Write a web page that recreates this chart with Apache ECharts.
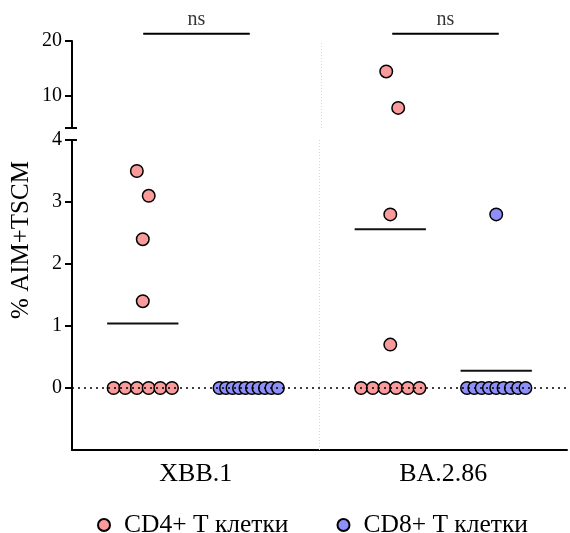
<!DOCTYPE html>
<html><head><meta charset="utf-8">
<script src="https://cdn.jsdelivr.net/npm/echarts@6/dist/echarts.min.js"></script>
<style>html,body{margin:0;padding:0;background:#fff}#c{width:570px;height:533px}</style>
</head><body><div id="c"></div>
<script>
// ---- data ----
const categories = ['XBB.1', 'BA.2.86'];
const groupNames = ['CD4+ Т клетки', 'CD8+ Т клетки'];
const cd4XBB = [3.5, 3.1, 2.4, 1.4, 0, 0, 0, 0, 0, 0];
const cd8XBB = [0, 0, 0, 0, 0, 0, 0, 0, 0, 0];
const cd4BA = [14.4, 7.7, 2.8, 0.7, 0, 0, 0, 0, 0, 0];
const cd8BA = [2.8, 0, 0, 0, 0, 0, 0, 0, 0, 0];
const upperTicks = [10, 20];
const lowerTicks = [0, 1, 2, 3, 4];
const comparisonLabels = ['ns', 'ns'];

// ---- layout / style ----
const FONT = '"Liberation Serif", "Times New Roman", serif';
const GRID_LEFT = 72, GRID_W = 500;
const UP_TOP = 41, UP_H = 87, UP_MIN = 4, UP_MAX = 20;
const LO_TOP = 140, LO_H = 310, LO_MIN = -1, LO_MAX = 4;
const BREAK = 4;
const PX_PER_X = GRID_W / 2;
const GROUP_OFF = 53.5 / PX_PER_X;
const MEAN_HALF = 36 / PX_PER_X;
const BRACKET_Y = 21.35;
const colors = ['#F99B9B', '#8F8FF9'];
const table = [[cd4XBB, cd8XBB], [cd4BA, cd8BA]];

function pxY(v) {
  return v > BREAK ? UP_TOP + (UP_MAX - v) / (UP_MAX - UP_MIN) * UP_H
                   : LO_TOP + (LO_MAX - v) / (LO_MAX - LO_MIN) * LO_H;
}
function colCenter(ci, gi) { return ci + 0.5 + (gi === 0 ? -GROUP_OFF : GROUP_OFF); }
function swarm(vals) {
  const pts = vals.map(v => ({ v, py: pxY(v) })).sort((a, b) => a.py - b.py);
  const rows = []; let cur = [];
  pts.forEach(p => {
    if (cur.length && p.py - cur[cur.length - 1].py >= 40) { rows.push(cur); cur = []; }
    cur.push(p);
  });
  if (cur.length) rows.push(cur);
  rows.forEach(r => {
    const n = r.length; const s = n > 1 ? Math.min(12, 59 / (n - 1)) : 0;
    r.forEach((p, i) => { p.dx = (i - (n - 1) / 2) * s; });
  });
  return pts;
}

const series = [];
// zero dotted line + separators
series.push({
  type: 'scatter', xAxisIndex: 1, yAxisIndex: 1, data: [], silent: true, z: 1,
  markLine: { symbol: 'none', silent: true, label: { show: false }, animation: false,
    data: [
      { yAxis: 0, lineStyle: { type: [2, 4], color: '#000', width: 1.5 } },
      { xAxis: 1, lineStyle: { type: [1, 2], color: '#d8d8d8', width: 1 } }
    ] }
});
series.push({
  type: 'scatter', xAxisIndex: 0, yAxisIndex: 0, data: [], silent: true, z: 1,
  markLine: { symbol: 'none', silent: true, label: { show: false }, animation: false,
    data: [{ xAxis: 1, lineStyle: { type: [1, 2], color: '#d8d8d8', width: 1 } }] }
});
// break caps (inward stubs)
[0, 1].forEach(g => series.push({
  type: 'line', xAxisIndex: g, yAxisIndex: g, clip: false, symbol: 'none', silent: true, z: 5,
  data: [[0, BREAK], [0.02, BREAK]], lineStyle: { color: '#000', width: 2 }
}));

categories.forEach((cat, ci) => {
  [0, 1].forEach(gi => {
    const vals = table[ci][gi];
    const pts = swarm(vals);
    const c = colCenter(ci, gi);
    const lo = pts.filter(p => p.v <= BREAK).map(p => [c + p.dx / PX_PER_X, p.v]);
    const up = pts.filter(p => p.v > BREAK).map(p => [c + p.dx / PX_PER_X, p.v]);
    const style = { color: colors[gi], borderColor: '#000', borderWidth: 1.5, opacity: 1 };
    series.push({ type: 'scatter', name: groupNames[gi], xAxisIndex: 1, yAxisIndex: 1,
      data: lo, symbol: 'circle', symbolSize: 12.5, itemStyle: style, z: 4 });
    series.push({ type: 'scatter', name: groupNames[gi], xAxisIndex: 0, yAxisIndex: 0,
      data: up, symbol: 'circle', symbolSize: 12.5, itemStyle: style, z: 4 });
    const mean = vals.reduce((a, b) => a + b, 0) / vals.length;
    const g = mean > BREAK ? 0 : 1;
    series.push({ type: 'line', xAxisIndex: g, yAxisIndex: g, symbol: 'none', silent: true, z: 2,
      data: [[c - MEAN_HALF, mean], [c + MEAN_HALF, mean]], lineStyle: { color: '#111', width: 2 } });
  });
  // comparison bracket
  const x0 = colCenter(ci, 0), x1 = colCenter(ci, 1);
  series.push({ type: 'line', xAxisIndex: 0, yAxisIndex: 0, symbol: 'none', silent: true, clip: false,
    data: [[x0, BRACKET_Y], [x1, BRACKET_Y]], lineStyle: { color: '#000', width: 2 } });
  series.push({ type: 'scatter', xAxisIndex: 0, yAxisIndex: 0, symbolSize: 0, silent: true, clip: false,
    data: [[(x0 + x1) / 2, BRACKET_Y]],
    label: { show: true, position: 'top', distance: 4, formatter: comparisonLabels[ci],
      fontFamily: FONT, fontSize: 20, color: '#000' } });
});

const axisLineStyle = { color: '#000', width: 2 };
const option = {
  animation: false,
  backgroundColor: '#fff',
  grid: [
    { left: GRID_LEFT, width: GRID_W, top: UP_TOP, height: UP_H },
    { left: GRID_LEFT, width: GRID_W, top: LO_TOP, height: LO_H }
  ],
  xAxis: [
    { gridIndex: 0, type: 'value', min: 0, max: 2, show: false },
    { gridIndex: 1, type: 'value', min: 0, max: 2, interval: 0.5,
      axisLine: { show: true, onZero: false, lineStyle: axisLineStyle },
      axisTick: { show: false }, splitLine: { show: false },
      axisLabel: { margin: 11, fontFamily: FONT, fontSize: 26, color: '#000',
        showMinLabel: true, showMaxLabel: true,
        formatter: v => { const i = v - 0.5; return (Math.abs(i - Math.round(i)) < 1e-6 && categories[Math.round(i)]) || ''; } } }
  ],
  yAxis: [
    { gridIndex: 0, type: 'value', min: UP_MIN, max: UP_MAX,
      axisLine: { show: true, lineStyle: axisLineStyle },
      axisTick: { show: true, length: 7, lineStyle: { width: 2, color: '#000' }, customValues: [UP_MIN].concat(upperTicks) },
      axisLabel: { fontFamily: FONT, fontSize: 20, color: '#000', margin: 10, customValues: upperTicks },
      splitLine: { show: false } },
    { gridIndex: 1, type: 'value', min: LO_MIN, max: LO_MAX,
      axisLine: { show: true, onZero: false, lineStyle: axisLineStyle },
      axisTick: { show: true, length: 7, lineStyle: { width: 2, color: '#000' }, customValues: lowerTicks },
      axisLabel: { fontFamily: FONT, fontSize: 20, color: '#000', margin: 10, customValues: lowerTicks },
      splitLine: { show: false } }
  ],
  legend: {
    data: groupNames, left: 92, top: 507, icon: 'circle', itemWidth: 30, itemHeight: 12, itemGap: 48,
    textStyle: { fontFamily: FONT, fontSize: 25.5, color: '#000', padding: [0, 0, 0, 0] }
  },
  graphic: [{
    type: 'text', x: 21, y: 240, rotation: Math.PI / 2,
    style: { text: '% AIM+TSCM', font: '25px ' + FONT, fill: '#000', textAlign: 'center', textVerticalAlign: 'middle' }
  }],
  series: series
};
const chart = echarts.init(document.getElementById('c'), null, { renderer: 'canvas' });
chart.setOption(option);
</script></body></html>
